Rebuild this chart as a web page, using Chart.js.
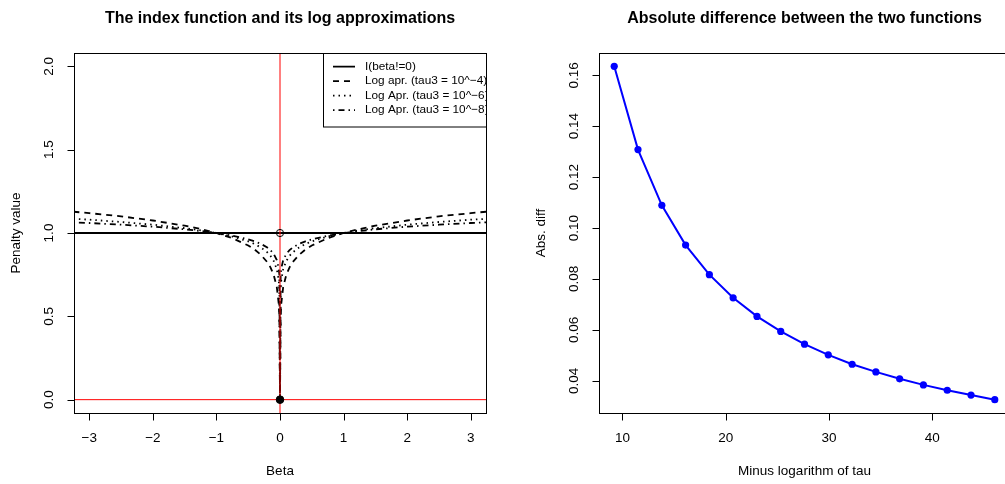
<!DOCTYPE html>
<html>
<head>
<meta charset="utf-8">
<script src="https://cdn.jsdelivr.net/npm/chart.js@4.4.0/dist/chart.umd.min.js"></script>
<style>
  html, body { margin: 0; padding: 0; background: #fff; overflow: hidden; width: 1005px; height: 484px; }
  canvas { position: absolute; top: 0; }
  #left { left: 0; }
  #right { left: 500px; }
</style>
</head>
<body>
<canvas id="left" width="500" height="484"></canvas>
<canvas id="right" width="540" height="484"></canvas>
<script>
// left panel: index function and its log approximations
const beta = [-3.25, -3, -2.5, -2, -1.5, -1.25, -1, -0.75, -0.5, -0.4, -0.3, -0.2, -0.15, -0.1, -0.05, -0.02, -0.01, 0,
              0.01, 0.02, 0.05, 0.1, 0.15, 0.2, 0.3, 0.4, 0.5, 0.75, 1, 1.25, 1.5, 2, 2.5, 3, 3.25];
const logTau4 = [1.128, 1.119, 1.100, 1.075, 1.044, 1.024, 1, 0.969, 0.925, 0.901, 0.869, 0.825, 0.794, 0.750, 0.675, 0.576, 0.501, 0,
                 0.501, 0.576, 0.675, 0.750, 0.794, 0.825, 0.869, 0.901, 0.925, 0.969, 1, 1.024, 1.044, 1.075, 1.100, 1.119, 1.128];
const logTau6 = [1.085, 1.080, 1.066, 1.050, 1.029, 1.016, 1, 0.979, 0.950, 0.934, 0.913, 0.884, 0.863, 0.833, 0.783, 0.717, 0.667, 0,
                 0.667, 0.717, 0.783, 0.833, 0.863, 0.884, 0.913, 0.934, 0.950, 0.979, 1, 1.016, 1.029, 1.050, 1.066, 1.080, 1.085];
const logTau8 = [1.064, 1.060, 1.050, 1.038, 1.022, 1.012, 1, 0.984, 0.962, 0.950, 0.935, 0.913, 0.897, 0.875, 0.837, 0.788, 0.750, 0,
                 0.750, 0.788, 0.837, 0.875, 0.897, 0.913, 0.935, 0.950, 0.962, 0.984, 1, 1.012, 1.022, 1.038, 1.050, 1.060, 1.064];
const indexX = [-3.25, 3.25];
const indexY = [1, 1];
const redVX = [0, 0], redVY = [-0.2, 2.2];
const redHX = [-3.5, 3.5], redHY = [0, 0];
const openPt = [0, 1];
const filledPt = [0, 0];
const betaTicks = [-3, -2, -1, 0, 1, 2, 3];
const betaTickLabels = ['\u22123', '\u22122', '\u22121', '0', '1', '2', '3'];
const penaltyTicks = [0, 0.5, 1, 1.5, 2];
const penaltyTickLabels = ['0.0', '0.5', '1.0', '1.5', '2.0'];
const legendLabels = ['I(beta!=0)', 'Log apr. (tau3 = 10^\u22124)', 'Log Apr. (tau3 = 10^\u22126)', 'Log Apr. (tau3 = 10^\u22128)'];

// right panel: absolute difference
const minusLogTau = [9.21, 11.51, 13.82, 16.12, 18.42, 20.72, 23.03, 25.33, 27.63, 29.93, 32.24, 34.54, 36.84, 39.14, 41.45, 43.75, 46.05];
const absDiff = [0.1635, 0.1308, 0.1089, 0.0933, 0.0817, 0.0726, 0.0653, 0.0594, 0.0544, 0.0502, 0.0465, 0.0435, 0.0408, 0.0384, 0.0363, 0.0344, 0.0326];
const tauTicks = [10, 20, 30, 40];
const diffTicks = [0.04, 0.06, 0.08, 0.10, 0.12, 0.14, 0.16];
const diffTickLabels = ['0.04', '0.06', '0.08', '0.10', '0.12', '0.14', '0.16'];

const FONT = '"Liberation Sans", Arial, Helvetica, sans-serif';
const DASHES = [[], [6, 5], [1.5, 4], [1.5, 4, 6, 4]];

const pts = (xs, ys) => xs.map((v, i) => ({ x: v, y: ys[i] }));

// base-graphics style frame, ticks, labels and titles
const rAxes = {
  id: 'rAxes',
  afterDatasetsDraw(chart, args, o) {
    const { ctx, chartArea: a, scales: { x, y } } = chart;
    const L = Math.round(a.left) + 0.5, R = Math.round(a.right) + 0.5;
    const T = Math.round(a.top) + 0.5, B = Math.round(a.bottom) + 0.5;
    ctx.save();

    if (o.legend) {
      ctx.save();
      ctx.beginPath();
      ctx.rect(a.left - 1, a.top - 1, a.right - a.left + 1.5, a.bottom - a.top + 2);
      ctx.clip();
      ctx.fillStyle = '#fff';
      ctx.fillRect(323, T, R + 20 - 323, 127 - T);
      ctx.strokeStyle = '#000';
      ctx.lineWidth = 1;
      ctx.strokeRect(323.5, T, R + 20 - 323, 127 - T);
      ctx.font = '11.8px ' + FONT;
      ctx.textAlign = 'left';
      ctx.textBaseline = 'middle';
      ctx.fillStyle = '#000';
      legendLabels.forEach((lab, i) => {
        const ly = 66.7 + i * 14.5;
        ctx.beginPath();
        ctx.setLineDash(DASHES[i]);
        ctx.lineWidth = 1.8;
        ctx.moveTo(333, ly);
        ctx.lineTo(355, ly);
        ctx.stroke();
        ctx.setLineDash([]);
        ctx.fillText(lab, 365, ly);
      });
      ctx.restore();
    }

    ctx.strokeStyle = '#000';
    ctx.lineWidth = 1;
    ctx.strokeRect(L, T, R - L, B - T);
    ctx.beginPath();
    o.xTicks.forEach(v => {
      const px = Math.round(x.getPixelForValue(v)) + 0.5;
      ctx.moveTo(px, B);
      ctx.lineTo(px, B + 7);
    });
    o.yTicks.forEach(v => {
      const py = Math.round(y.getPixelForValue(v)) + 0.5;
      ctx.moveTo(L, py);
      ctx.lineTo(L - 7, py);
    });
    ctx.stroke();

    ctx.fillStyle = '#000';
    ctx.font = '13.5px ' + FONT;
    ctx.textAlign = 'center';
    ctx.textBaseline = 'middle';
    o.xTicks.forEach((v, i) => ctx.fillText(o.xLabels[i], x.getPixelForValue(v), a.bottom + 25));
    o.yTicks.forEach((v, i) => {
      ctx.save();
      ctx.translate(a.left - 25, y.getPixelForValue(v));
      ctx.rotate(-Math.PI / 2);
      ctx.fillText(o.yLabels[i], 0, 0);
      ctx.restore();
    });
    ctx.fillText(o.xTitle, (a.left + a.right) / 2, a.bottom + 58);
    ctx.save();
    ctx.translate(a.left - 58, (a.top + a.bottom) / 2);
    ctx.rotate(-Math.PI / 2);
    ctx.fillText(o.yTitle, 0, 0);
    ctx.restore();

    ctx.font = 'bold 16px ' + FONT;
    ctx.fillText(o.title, (a.left + a.right) / 2, 18.5);
    ctx.restore();
  }
};

const blackLine = (data, dash, order) => ({
  data, borderColor: '#000', borderWidth: 1.8, borderDash: dash,
  pointRadius: 0, fill: false, tension: 0, order
});

new Chart(document.getElementById('left'), {
  type: 'line',
  data: {
    datasets: [
      { data: pts([filledPt[0]], [filledPt[1]]), showLine: false, pointRadius: 3.8,
        pointBackgroundColor: '#000', pointBorderColor: '#000', pointBorderWidth: 1, order: 0 },
      { data: pts([openPt[0]], [openPt[1]]), showLine: false, pointRadius: 3.6,
        pointBackgroundColor: 'rgba(0,0,0,0)', pointBorderColor: '#000', pointBorderWidth: 1, order: 0 },
      { data: pts(redVX, redVY), borderColor: '#ff0000', borderWidth: 1, pointRadius: 0, order: 1 },
      { data: pts(redHX, redHY), borderColor: '#ff0000', borderWidth: 1, pointRadius: 0, order: 1 },
      blackLine(pts(beta, logTau8), DASHES[3], 2),
      blackLine(pts(beta, logTau6), DASHES[2], 3),
      blackLine(pts(beta, logTau4), DASHES[1], 4),
      blackLine(pts(indexX, indexY), [], 5)
    ]
  },
  options: {
    responsive: false,
    animation: false,
    layout: { padding: { left: 74, right: 14, top: 53, bottom: 71 } },
    scales: {
      x: { type: 'linear', min: -3.24, max: 3.24, display: false },
      y: { type: 'linear', min: -0.08, max: 2.08, display: false }
    },
    plugins: {
      legend: { display: false },
      tooltip: { enabled: false },
      rAxes: {
        legend: true,
        xTicks: betaTicks, xLabels: betaTickLabels,
        yTicks: penaltyTicks, yLabels: penaltyTickLabels,
        xTitle: 'Beta', yTitle: 'Penalty value',
        title: 'The index function and its log approximations'
      }
    }
  },
  plugins: [rAxes]
});

new Chart(document.getElementById('right'), {
  type: 'line',
  data: {
    datasets: [{
      data: pts(minusLogTau, absDiff),
      borderColor: '#0000ff', borderWidth: 2, tension: 0, fill: false,
      pointRadius: 3.6, pointBackgroundColor: '#0000ff', pointBorderColor: '#0000ff', pointBorderWidth: 0
    }]
  },
  options: {
    responsive: false,
    animation: false,
    layout: { padding: { left: 99, right: 30, top: 53, bottom: 71 } },
    scales: {
      x: { type: 'linear', min: 7.736, max: 47.524, display: false },
      y: { type: 'linear', min: 0.02736, max: 0.16874, display: false }
    },
    plugins: {
      legend: { display: false },
      tooltip: { enabled: false },
      rAxes: {
        legend: false,
        xTicks: tauTicks, xLabels: tauTicks.map(String),
        yTicks: diffTicks, yLabels: diffTickLabels,
        xTitle: 'Minus logarithm of tau', yTitle: 'Abs. diff',
        title: 'Absolute difference between the two functions'
      }
    }
  },
  plugins: [rAxes]
});
</script>
</body>
</html>
